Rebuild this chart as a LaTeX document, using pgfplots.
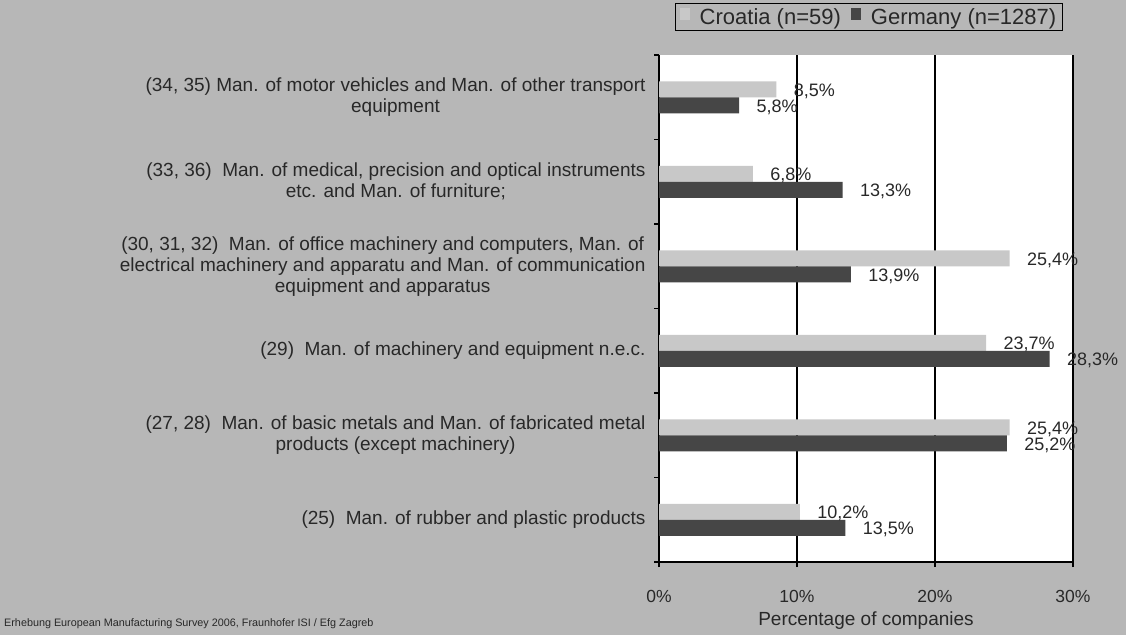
\documentclass[border=0pt]{standalone}
\usepackage{pgfplots}
\pgfplotsset{compat=1.18}
\usepackage{fontspec}
\setmainfont{Liberation Sans}
\definecolor{bg}{RGB}{183,183,183}
\definecolor{cro}{RGB}{200,200,200}
\definecolor{ger}{RGB}{70,70,70}
\definecolor{txt}{RGB}{40,40,40}
\begin{document}
\begin{tikzpicture}[x=1pt,y=1pt,text=txt]
\useasboundingbox (0,0) rectangle (1126,635);
\fill[bg] (0,0) rectangle (1126,635);
\clip (0,0) rectangle (1126,635);
\begin{axis}[
  at={(659pt,73pt)}, anchor=south west,
  scale only axis, width=414pt, height=507pt,
  xmin=0, xmax=30, ymin=-0.5, ymax=5.5,
  xbar, bar width=16pt,
  clip=false,
  axis background/.style={fill=white},
  axis x line*=bottom, axis y line*=left,
  axis line style={-, black, line width=1.1pt},
  xtick={0,10,20,30}, xticklabels={0\%,10\%,20\%,30\%},
  xmajorgrids, major grid style={black, line width=1.1pt},
  tick align=outside, major tick length=5pt, minor tick length=5pt,
  every major y tick/.append style={draw=none},
  every major x tick/.append style={black, line width=1.1pt},
  every minor y tick/.append style={black, line width=1.1pt},
  ytick={0,1,2,3,4,5},
  minor ytick={-0.5,0.5,1.5,2.5,3.5,4.5,5.5},
  yticklabels={
    {(25)\ \ Man. of rubber and plastic products},
    {(27, 28)\ \ Man. of basic metals and Man. of fabricated metal\\products (except machinery)},
    {(29)\ \ Man. of machinery and equipment n.e.c.},
    {(30, 31, 32)\ \ Man. of office machinery and computers, Man. of\\electrical machinery and apparatu and Man. of communication\\equipment and apparatus},
    {(33, 36)\ \ Man. of medical, precision and optical instruments\\etc. and Man. of furniture;},
    {(34, 35) Man. of motor vehicles and Man. of other transport\\equipment}},
  yticklabel style={align=center, font=\fontsize{19}{21}\selectfont, xshift=-5pt, text=txt},
  xticklabel style={font=\fontsize{17.5}{20}\selectfont, yshift=-20pt, text=txt},
  xlabel={Percentage of companies},
  xlabel style={font=\fontsize{19}{22}\selectfont, at={(axis description cs:0.5,0)}, anchor=base, yshift=-63pt, text=txt},
  nodes near coords={\pgfmathprintnumber[fixed,precision=1,fixed zerofill,use comma,assume math mode=true]{\pgfplotspointmeta}\%},
  nodes near coords style={font=\fontsize{18}{20}\selectfont, anchor=west, xshift=14pt, yshift=-2pt, text=txt},
  legend columns=2,
  legend style={at={(0.039,1.047)}, anchor=south west, fill=bg, draw=black, line width=1.2pt,
    font=\fontsize{22}{26}\selectfont, text=txt, inner xsep=4pt, inner ysep=3pt,
    /tikz/every odd column/.style={column sep=8pt},
    /tikz/every even column/.style={column sep=8pt}},
  legend image code/.code={\fill[#1, draw=none] (0pt,-3pt) rectangle (10pt,9pt);},
]
\addplot[fill=cro, draw=none, bar shift=8pt] coordinates {(10.2,0) (25.4,1) (23.7,2) (25.4,3) (6.8,4) (8.5,5)};
\addplot[fill=ger, draw=none, bar shift=-8pt] coordinates {(13.5,0) (25.2,1) (28.3,2) (13.9,3) (13.3,4) (5.8,5)};
\legend{Croatia (n=59), Germany (n=1287)}
\end{axis}
\node[anchor=base west, font=\fontsize{10.8}{12}\selectfont, inner sep=0pt] at (4,9) {Erhebung European Manufacturing Survey 2006, Fraunhofer ISI / Efg Zagreb};
\end{tikzpicture}
\end{document}
